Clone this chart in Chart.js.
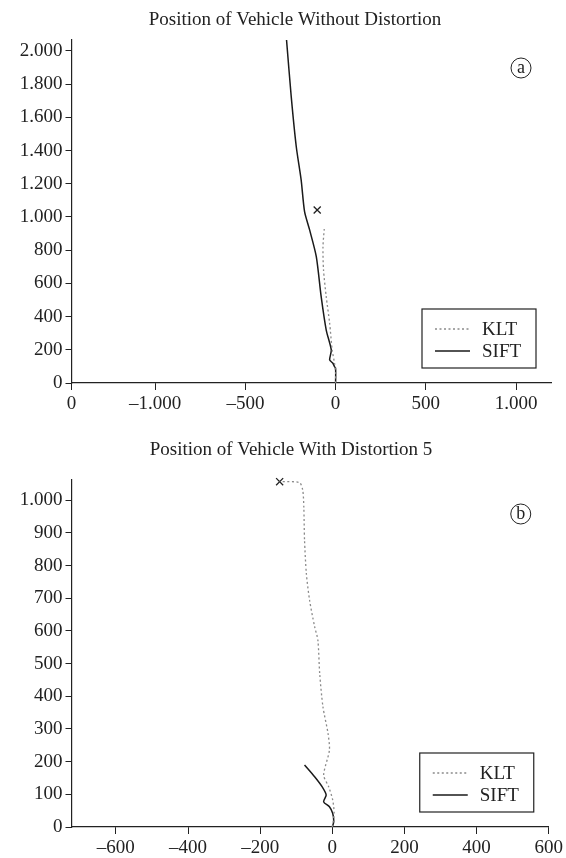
<!DOCTYPE html>
<html>
<head>
<meta charset="utf-8">
<script src="https://cdn.jsdelivr.net/npm/chart.js@4.4.1/dist/chart.umd.min.js"></script>
<style>
  body { margin: 0; background: #fff; }
  canvas { position: absolute; left: 0; }
  #topChart { top: 0; }
  #bottomChart { top: 430px; }
</style>
</head>
<body>
<canvas id="topChart" width="566" height="430"></canvas>
<canvas id="bottomChart" width="566" height="428"></canvas>
<script>
// panel (a): without distortion
const kltTopX = [0, 0, -6, -19, -33, -52, -67, -70, -63];
const kltTopY = [0, 60, 119, 199, 360, 520, 681, 821, 928];
const siftTopX = [0, 0, -6, -15, -33, -24, -52, -80, -107, -144, -172, -191, -218, -246, -272];
const siftTopY = [0, 88, 98, 119, 139, 199, 319, 520, 761, 922, 1032, 1223, 1423, 1725, 2066];
const markTopX = [-102];
const markTopY = [1042];
const xTicksTop = [-1464, -1000, -500, 0, 500, 1000];
const yTicksTop = [0, 200, 400, 600, 800, 1000, 1200, 1400, 1600, 1800, 2000];

// panel (b): distortion 5
const kltBotX = [0, 5, 1, -10, -24, -8, -12, -26, -35, -40, -49, -63, -72, -77, -79, -82, -91, -146];
const kltBotY = [0, 42, 83, 123, 159, 235, 287, 368, 470, 572, 613, 694, 776, 878, 980, 1031, 1054, 1057];
const siftBotX = [0, 4, 1, -8, -24, -17, -28, -49, -77];
const siftBotY = [0, 16, 42, 62, 77, 98, 123, 154, 190];
const markBotX = [-146];
const markBotY = [1057];
const xTicksBot = [-600, -400, -200, 0, 200, 400, 600];
const yTicksBot = [0, 100, 200, 300, 400, 500, 600, 700, 800, 900, 1000];

Chart.defaults.font.family = '"Liberation Serif", serif';
Chart.defaults.color = '#222';

function pts(xs, ys) {
  return xs.map((x, i) => ({ x: x, y: ys[i] }));
}

function fmt(v) {
  let s = String(Math.abs(v));
  if (Math.abs(v) >= 1000) s = s.replace(/(\d)(?=(\d{3})+$)/, '$1.');
  return (v < 0 ? '\u2013' : '') + s;
}

// title, circled letter and boxed legend
const decor = {
  id: 'decor',
  afterDraw(chart, args, opts) {
    const ctx = chart.ctx, a = chart.chartArea;
    ctx.save();
    ctx.fillStyle = '#222';
    ctx.strokeStyle = '#222';
    ctx.textBaseline = 'middle';
    ctx.textAlign = 'center';
    ctx.font = '19px "Liberation Serif"';
    ctx.fillText(opts.title, opts.titleX, opts.titleY);

    const cx = a.right - opts.circleDx, cy = a.top + opts.circleDy;
    ctx.beginPath();
    ctx.lineWidth = 1;
    ctx.arc(cx, cy, 10, 0, Math.PI * 2);
    ctx.stroke();
    ctx.font = '18px "Liberation Serif"';
    ctx.textBaseline = 'alphabetic';
    ctx.fillText(opts.letter, cx, cy + 5);
    ctx.textBaseline = 'middle';

    const bw = 114, bh = 59;
    const bx = a.right - 15 - bw, by = a.bottom - 15 - bh;
    ctx.fillStyle = '#fff';
    ctx.fillRect(bx, by, bw, bh);
    ctx.lineWidth = 1.2;
    ctx.strokeRect(bx, by, bw, bh);
    ctx.textAlign = 'left';
    ctx.font = '19px "Liberation Serif"';
    chart.data.datasets.filter(d => d.label).forEach((d, i) => {
      const ly = by + 20 + i * 22;
      ctx.beginPath();
      ctx.setLineDash(d.borderDash || []);
      ctx.strokeStyle = d.borderColor;
      ctx.lineWidth = d.borderWidth;
      ctx.moveTo(bx + 13, ly);
      ctx.lineTo(bx + 48, ly);
      ctx.stroke();
      ctx.setLineDash([]);
      ctx.fillStyle = '#222';
      ctx.fillText(d.label, bx + 60, ly + 1);
    });
    ctx.restore();
  }
};

function makeChart(id, p) {
  return new Chart(document.getElementById(id), {
    type: 'scatter',
    data: {
      datasets: [
        { label: 'KLT', data: pts(p.kltX, p.kltY), showLine: true, borderColor: '#8a8a8a',
          borderWidth: 1.3, borderDash: [2, 2.5], pointRadius: 0, tension: 0.25 },
        { label: 'SIFT', data: pts(p.siftX, p.siftY), showLine: true, borderColor: '#1a1a1a',
          borderWidth: 1.5, pointRadius: 0, tension: 0.25 },
        { data: pts(p.markX, p.markY), showLine: false, pointStyle: 'crossRot', pointRadius: 5,
          borderColor: '#222', borderWidth: 1.3, clip: false }
      ]
    },
    options: {
      responsive: false,
      animation: false,
      layout: { padding: { top: p.padTop, right: p.padRight, left: 0, bottom: 0 } },
      plugins: {
        legend: { display: false },
        tooltip: { enabled: false },
        decor: p.decor
      },
      scales: {
        x: {
          min: p.xMin, max: p.xMax,
          afterBuildTicks: s => { s.ticks = p.xTicks.map(v => ({ value: v })); },
          afterFit: s => { s.height = p.xHeight; },
          ticks: {
            autoSkip: false, maxRotation: 0, padding: 3, font: { size: 19 },
            callback: v => (v === p.xMin ? '0' : fmt(v))
          },
          grid: { drawOnChartArea: false, tickLength: 7, color: '#222' },
          border: { color: '#222', width: 1.2 }
        },
        y: {
          min: 0, max: p.yMax,
          afterBuildTicks: s => { s.ticks = p.yTicks.map(v => ({ value: v })); },
          afterFit: s => { s.width = 71.5; },
          ticks: { autoSkip: false, padding: 3, font: { size: 19 }, callback: v => fmt(v) },
          grid: { drawOnChartArea: false, tickLength: 6, color: '#222' },
          border: { color: '#222', width: 1.2 }
        }
      }
    },
    plugins: [decor]
  });
}

makeChart('topChart', {
  kltX: kltTopX, kltY: kltTopY, siftX: siftTopX, siftY: siftTopY, markX: markTopX, markY: markTopY,
  xMin: -1464, xMax: 1194, xTicks: xTicksTop, yMax: 2066, yTicks: yTicksTop,
  padTop: 40, padRight: 15, xHeight: 47,
  decor: { title: 'Position of Vehicle Without Distortion', titleX: 295, titleY: 20,
           letter: 'a', circleDx: 30, circleDy: 28 }
});

makeChart('bottomChart', {
  kltX: kltBotX, kltY: kltBotY, siftX: siftBotX, siftY: siftBotY, markX: markBotX, markY: markBotY,
  xMin: -723, xMax: 600, xTicks: xTicksBot, yMax: 1062, yTicks: yTicksBot,
  padTop: 50, padRight: 17, xHeight: 31,
  decor: { title: 'Position of Vehicle With Distortion 5', titleX: 291, titleY: 20,
           letter: 'b', circleDx: 28, circleDy: 34 }
});
</script>
</body>
</html>
